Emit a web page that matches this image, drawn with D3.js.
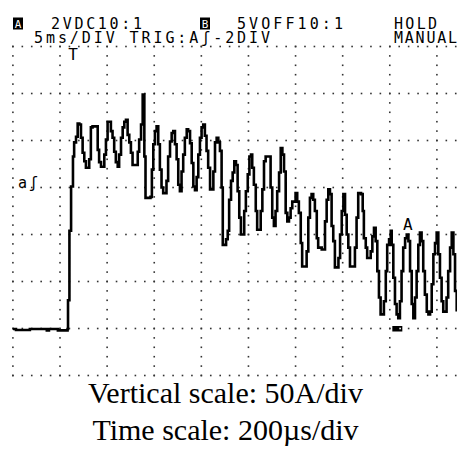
<!DOCTYPE html>
<html><head><meta charset="utf-8">
<script src="https://cdn.jsdelivr.net/npm/d3@7"></script>
<style>body{margin:0;background:#fff}svg{display:block}</style>
</head><body><svg id="c" width="457" height="452"></svg>
<script>
// ---- data (time in µs, current in A) ----
const traceTimeUs = [0,13,59,72,136,144,153,191,221,232,
234,239,240,246,247,253,255,260,268,275,282,289,296,303,310,317,324,331,338,352,360,366,374,381,388,395,402,409,416,423,430,437,445,451,459,466,473,480,487,494,501,508,522,530,536,544,551,558,563,584,590,596,603,610,
617,624,631,638,645,652,659,667,674,681,688,695,702,709,716,723,730,738,744,752,759,766,773,780,787,794,801,808,815,822,829,837,844,851,858,865,872,879,886,891,896,905,912,918,926,933,940,947,954,961,968,975,982,989,997,1004,1011,1016,1023,1031,1037,1045,1052,1059,1066,1073,1087,1094,1101,1108,1115,1122,1130,1137,1144,1151,1158,1165,1172,1179,1186,1193,1200,1207,1214,1222,1228,1240,1247,1254,1261,1268,1275,1282,1290,1296,1311,1316,1325,1332,1339,1346,1353,1360,1367,1375,1382,1389,1396,1403,
1410,1417,1424,1431,1445,1452,1459,1466,1478,1485,1490,1498,1504,1512,1519,1526,1533,1540,1547,1554,1561,1568,1575,1583,1589,1597,1604,1608,1615,1622,1629,1636,1643,1650,1657,1665,1672,1679,1686,1693,1700,1707,1714,1721,1728,1735,1742,1749,1757,1764,1771,1778,1785,1792,1799,1806,1813,1820,1827,1834,1841,1848,1856,1863,1870,1877,1884];
const traceCurrentA = [-0.5,-1.6,-1.6,-0.5,-0.5,-2,-0.5,-2,-2,-0.5,
30,30,104,104,151,151,183,198,204,218,217,203,187,178,171,171,180,214,215,215,190,177,172,172,185,201,220,220,210,203,188,177,172,185,203,214,220,222,206,198,187,174,174,188,201,217,249,183,139,140,169,196,210,215,
196,169,150,144,144,157,183,199,208,210,196,180,153,146,167,185,203,212,210,197,176,151,147,161,185,203,214,217,205,189,171,148,148,167,198,203,198,189,150,89,89,95,104,137,157,166,178,174,146,118,100,100,125,146,164,183,185,171,153,125,105,105,125,148,178,183,183,150,118,109,125,146,166,192,185,167,123,114,118,128,135,135,144,135,123,91,66,66,82,118,139,143,137,125,96,86,84,84,114,137,148,143,109,93,65,65,75,100,125,143,
121,100,86,66,66,86,118,144,143,125,96,86,75,75,82,98,107,93,61,33,15,15,29,61,89,95,104,89,54,26,15,11,29,61,86,96,100,93,61,26,11,33,61,89,102,93,61,36,18,15,18,47,79,91,102,79,54,29,18,18,33,61,86,102,79,40,18];

const timeDivTicks = [0,200,400,600,800,1000,1200,1400,1600,1800];
const currentDivTicks = [-50,0,50,100,150,200,250,300];
const headerRow1 = ["2VDC10:1","5VOFF10:1","HOLD"];
const headerRow2 = ["5ms/DIV TRIG:A\u0283-2DIV","MANUAL"];
const channelIcons = ["A","B"];
const markerLabels = ["T","a\u0283","A"];
const captionLines = ["Vertical scale: 50A/div","Time scale: 200\u00b5s/div"];

// ---- drawing ----
const svg = d3.select("#c");
svg.append("rect").attr("width",457).attr("height",452).attr("fill","#fff");
const x = d3.scaleLinear().domain([0,1800]).range([12.9,436.9]);
const y = d3.scaleLinear().domain([-50,300]).range([375.5,46.5]);

const minorT = d3.range(0,1881,40);
const minorI = d3.range(-50,301,10);
const dots = [];
currentDivTicks.forEach(I => minorT.forEach(t => dots.push([t,I])));
timeDivTicks.forEach(t => minorI.forEach(I => dots.push([t,I])));
svg.append("g").selectAll("rect").data(dots).join("rect")
  .attr("x",d=>x(d[0])-0.8).attr("y",d=>y(d[1])-0.8)
  .attr("width",1.6).attr("height",1.6).attr("fill","#333");

const mono = "'DejaVu Sans Mono', monospace";
// header
const h1x = [[51,142],[237,343],[394,437]];
headerRow1.forEach((s,i)=>{
  svg.append("text").attr("x",h1x[i][0]).attr("y",29).attr("font-family",mono)
    .attr("font-size",15).attr("textLength",h1x[i][1]-h1x[i][0]).attr("lengthAdjust","spacing").text(s);
});
const h2x = [[34,270],[394,457]];
headerRow2.forEach((s,i)=>{
  svg.append("text").attr("x",h2x[i][0]).attr("y",43).attr("font-family",mono)
    .attr("font-size",15).attr("textLength",h2x[i][1]-h2x[i][0]).attr("lengthAdjust","spacing").text(s);
});
const iconX = [13,200];
channelIcons.forEach((s,i)=>{
  svg.append("rect").attr("x",iconX[i]).attr("y",17.5).attr("width",10).attr("height",12).attr("fill","#000");
  svg.append("text").attr("x",iconX[i]+5).attr("y",28).attr("text-anchor","middle")
    .attr("font-family",mono).attr("font-size",11).attr("fill","#fff").text(s);
});

// trace
const line = d3.line().curve(d3.curveStepAfter)
  .x((d,i)=>x(traceTimeUs[i])).y((d,i)=>y(traceCurrentA[i]));
svg.append("path").attr("d",line(traceTimeUs)).attr("fill","none")
  .attr("stroke","#000").attr("stroke-width",2.6).attr("stroke-linejoin","miter");

// markers
svg.append("text").attr("x",x(255)).attr("y",60).attr("text-anchor","middle")
  .attr("font-family",mono).attr("font-size",16).text(markerLabels[0]);
svg.append("text").attr("x",18).attr("y",y(150)).attr("font-family",mono)
  .attr("font-size",15).attr("textLength",20).attr("lengthAdjust","spacing").text(markerLabels[1]);
svg.append("text").attr("x",x(1677)).attr("y",230).attr("text-anchor","middle")
  .attr("font-family",mono).attr("font-size",16).text(markerLabels[2]);
svg.append("rect").attr("x",x(1615)-1).attr("y",y(0)-2.5).attr("width",10).attr("height",5.5).attr("fill","#000");
svg.append("rect").attr("x",x(1615)+6).attr("y",y(0)-0.8).attr("width",1.6).attr("height",1.6).attr("fill","#fff");

// captions
captionLines.forEach((s,i)=>{
  svg.append("text").attr("x",225.5).attr("y",[403,440][i]).attr("text-anchor","middle")
    .attr("font-family","'Liberation Serif', 'Times New Roman', serif").attr("font-size",30).text(s);
});
</script></body></html>
